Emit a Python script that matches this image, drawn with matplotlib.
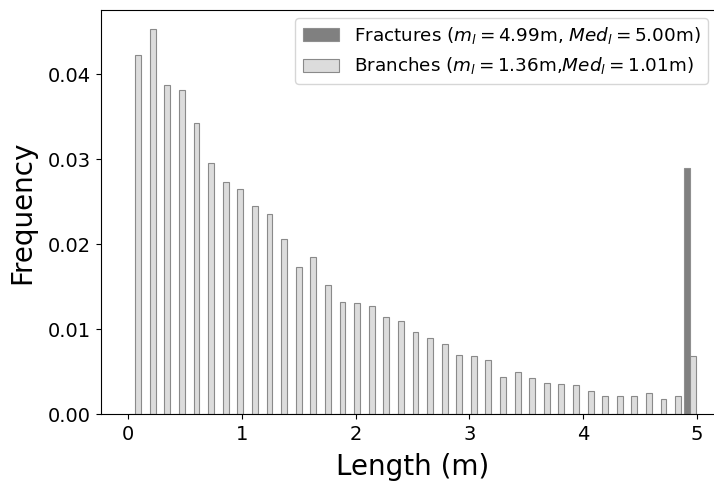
import numpy as np
import matplotlib
matplotlib.use("Agg")
import matplotlib.pyplot as plt

bin_edges = np.linspace(0, 5, 40)
branch_freq = [0.0423, 0.0453, 0.0387, 0.0382, 0.0343, 0.0295, 0.0273, 0.0265,
               0.0245, 0.0235, 0.0206, 0.0173, 0.0185, 0.0152, 0.0132, 0.0131,
               0.0127, 0.0114, 0.0109, 0.0097, 0.0089, 0.0082, 0.0069, 0.0068,
               0.0064, 0.0044, 0.0049, 0.0042, 0.0036, 0.0035, 0.0034, 0.0027,
               0.0021, 0.0021, 0.0021, 0.0025, 0.0018, 0.0021, 0.0068]
fracture_freq = [0.0] * 38 + [0.0290]
labels = [r"Fractures ($m_l = 4.99$m, $Med_l = 5.00$m)",
          r"Branches ($m_l = 1.36$m,$Med_l = 1.01$m)"]

centers = 0.5 * (bin_edges[:-1] + bin_edges[1:])

fig = plt.figure(figsize=(7.14, 4.84), dpi=100)
ax = fig.add_axes([101/714, 70/484, (724-101)/714, 404/484])

n, bins, patches = ax.hist([centers, centers], bins=bin_edges,
                           weights=[fracture_freq, branch_freq],
                           color=["#808080", "#dcdcdc"], label=labels)
for p in patches[0]:
    p.set_edgecolor("#8f8f8f")
    p.set_linewidth(0.8)
for p in patches[1]:
    p.set_edgecolor("#8a8a8a")
    p.set_linewidth(0.8)

ax.set_xlabel("Length (m)", fontsize=20, labelpad=7)
ax.set_ylabel("Frequency", fontsize=20, labelpad=8)
ax.tick_params(labelsize=14, length=3.8, pad=3.8)
ax.set_yticks([0.0, 0.01, 0.02, 0.03, 0.04])
ax.set_yticklabels(["0.00", "0.01", "0.02", "0.03", "0.04"])

ax.legend(loc="upper right", fontsize=13.2, borderaxespad=0,
          bbox_to_anchor=(708/714, 1 - 18/484), bbox_transform=fig.transFigure)

fig.savefig("out.png", dpi=100)
